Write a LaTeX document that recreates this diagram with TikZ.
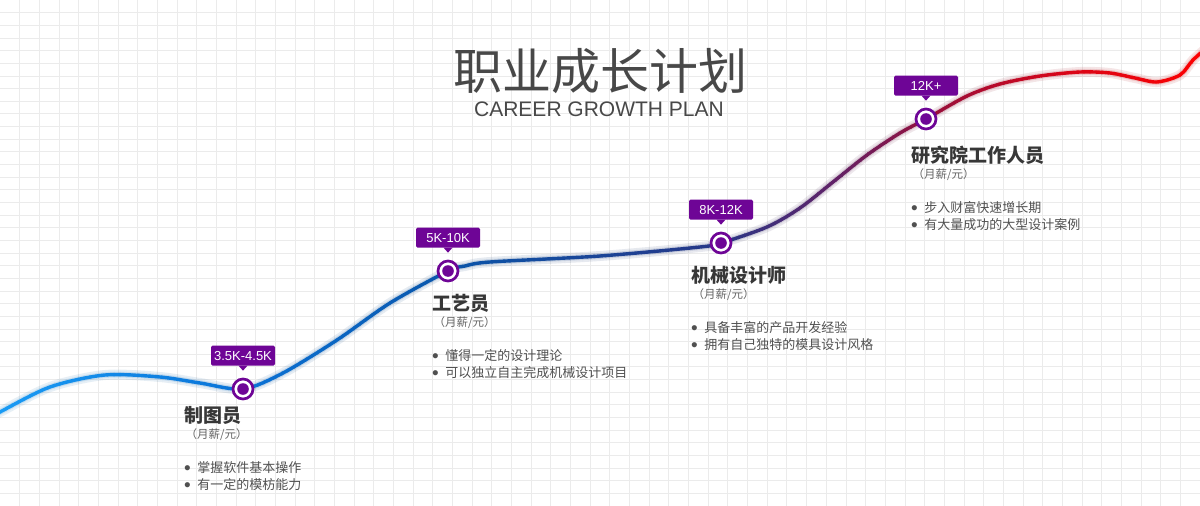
\documentclass[tikz,border=0pt]{standalone}
\usepackage{fontspec}
\setmainfont{Liberation Sans}
\newfontfamily\cjk{Noto Sans CJK SC}
\usetikzlibrary{positioning}

\definecolor{purp}{RGB}{110,5,150}
\definecolor{titlegray}{RGB}{72,72,72}
\definecolor{stagegray}{RGB}{55,55,55}
\definecolor{paygray}{RGB}{100,100,100}
\definecolor{itemgray}{RGB}{80,80,80}
\definecolor{cA}{RGB}{25,155,245}
\definecolor{cB}{RGB}{10,115,215}
\definecolor{cC}{RGB}{10,85,170}
\definecolor{cD}{RGB}{40,55,135}
\definecolor{cE}{RGB}{95,35,105}
\definecolor{cF}{RGB}{150,15,60}
\definecolor{cG}{RGB}{215,5,25}
\definecolor{cH}{RGB}{255,0,0}

\tikzset{
  gridline/.style={draw=gray!16, line width=0.8pt},
  marker/.style={circle, draw=purp, line width=2.7pt, fill=white,
    minimum size=20pt, inner sep=0pt,
    path picture={\fill[purp] (path picture bounding box.center) circle (5.8pt);}},
  salary/.style={fill=purp, text=white, rounded corners=1.5pt, minimum width=64pt,
    minimum height=20pt, inner sep=1pt, outer sep=0pt, font=\fontsize{13}{13}\selectfont},
  stagetitle/.style={anchor=west, inner sep=0pt, text=stagegray,
    font=\cjk\bfseries\fontsize{19}{19}\selectfont},
  paytag/.style={anchor=west, inner sep=0pt, text=paygray,
    font=\cjk\fontsize{11.5}{11.5}\selectfont},
  itemline/.style={anchor=west, inner sep=0pt, text=itemgray,
    font=\cjk\fontsize{13}{13}\selectfont},
}

\newcommand\itembullet{\raisebox{-1.8pt}{\rmfamily\fontsize{19}{19}\selectfont\textbullet}\hspace{6.5pt}}

\begin{document}
\begin{tikzpicture}[x=1pt,y=-1pt]
    \useasboundingbox (0,0) rectangle (1200,506);
    \fill[white] (0,0) rectangle (1200,506);

    % Background grid
    \foreach \i in {1,...,60}
      \draw[gridline] ({\i*19.672},0) -- ({\i*19.672},506);
    \foreach \j in {1,...,39}
      \draw[gridline] (0,{\j*12.65}) -- (1200,{\j*12.65});

    % Heading
    \node[font=\cjk\fontsize{49}{49}\selectfont, text=titlegray] (title) at (600,71.5) {职业成长计划};
    \node[font=\fontsize{21}{21}\selectfont, text=titlegray] (subtitle) at (599,109.5) {CAREER GROWTH PLAN};

    % Growth curve
    \path[save path=\careercurve] plot[smooth, tension=0.5] coordinates {
      (-10,418) (0,412) (50,387) (105,375) (160,377) (200,383) (243,389)
      (283,373) (337,340) (390,303) (448,271) (465,266) (490,262) (600,256)
      (700,247) (721,243) (767,227) (800,208) (833,182) (867,155) (900,133)
      (926,119) (967,96) (1000,84) (1040,76) (1080,72) (1110,73) (1135,78)
      (1157,82) (1180,75) (1193,60) (1210,45)};

    % soft shadow under the line
    \begin{scope}[yshift=-4pt]
      \draw[gray, opacity=0.06, line width=10pt, use path=\careercurve];
      \draw[gray, opacity=0.07, line width=5pt, use path=\careercurve];
    \end{scope}

    % colour runs from blue to red, one thin strip at a time
    \foreach \xa/\xb/\ca/\cb in {0/240/cA/cB, 240/450/cB/cC, 450/720/cC/cD,
        720/830/cD/cE, 830/930/cE/cF, 930/1060/cF/cG, 1060/1210/cG/cH}{
      \pgfmathtruncatemacro\nstrip{(\xb-\xa)/6}
      \foreach \k in {1,...,\nstrip}{
        \pgfmathsetmacro\sl{\xa+(\k-1)*(\xb-\xa)/\nstrip}
        \pgfmathsetmacro\sr{\xa+\k*(\xb-\xa)/\nstrip}
        \pgfmathtruncatemacro\pc{100*(\k-0.5)/\nstrip}
        \colorlet{segc}{\cb!\pc!\ca}
        \begin{scope}
          \clip (\sl,-20) rectangle (\sr,530);
          \draw[segc, opacity=0.07, line width=10pt, use path=\careercurve];
          \draw[segc, opacity=0.12, line width=6pt, use path=\careercurve];
        \end{scope}
        \begin{scope}
          \clip (\sl-0.3,-20) rectangle (\sr+0.3,530);
          \draw[segc, line width=3.4pt, use path=\careercurve];
        \end{scope}
      }
    }

    % Milestones
    \foreach \n/\mx/\my/\pay in {1/243/389/3.5K-4.5K, 2/448/271/5K-10K,
        3/721/243/8K-12K, 4/926/119/12K+}{
      \node[marker] (m\n) at (\mx,\my) {};
      \node[salary, above=12pt of m\n] (s\n) {\pay};
      \fill[purp] ([xshift=-4.5pt]s\n.south) -- ([xshift=4.5pt]s\n.south)
        -- ([yshift=-5pt]s\n.south) -- cycle;
    }

    % Stage texts
    \foreach \n/\bx/\by/\stage/\ia/\ib in {
        1/185/415/制图员/掌握软件基本操作/有一定的模枋能力,
        2/433/303/工艺员/懂得一定的设计理论/可以独立自主完成机械设计项目,
        3/692/275/机械设计师/具备丰富的产品开发经验/拥有自己独特的模具设计风格,
        4/912/155/研究院工作人员/步入财富快速增长期/有大量成功的大型设计案例}{
      \node[stagetitle] (t\n) at (\bx-1,\by) {\stage};
      \node[paytag] (p\n) at (\bx+0.5,\by+20) {（月薪/元）};
      \node[itemline] (i\n a) at (\bx-1,\by+53) {\itembullet\ia};
      \node[itemline] (i\n b) at (\bx-1,\by+70) {\itembullet\ib};
    }
\end{tikzpicture}
\end{document}
